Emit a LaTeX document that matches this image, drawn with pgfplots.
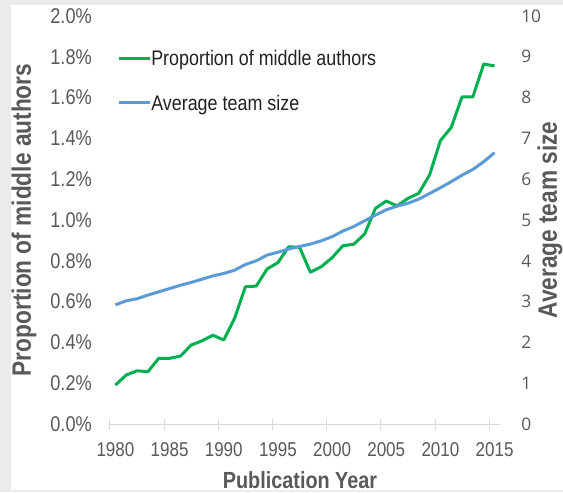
\documentclass[border=0pt]{standalone}
\usepackage{pgfplots}
\pgfplotsset{compat=1.18}
\usepackage{pgfplotstable}
\usepackage{fontspec}
\setmainfont{Liberation Sans}[FakeStretch=0.85]
\newfontfamily\rfont{Open Sans}
\definecolor{cgreen}{HTML}{00B050}
\definecolor{cblue}{HTML}{5B9BD5}
\definecolor{lbl}{HTML}{595959}
\definecolor{axgray}{HTML}{D9D9D9}
\definecolor{bggray}{HTML}{EBEBEB}
\definecolor{legtext}{HTML}{222222}
\pgfplotsset{/pgf/number format/assume math mode=true}
\pgfplotstableread{
year pct team
1980 0.191 2.92
1981 0.240 3.02
1982 0.261 3.07
1983 0.256 3.16
1984 0.322 3.24
1985 0.322 3.32
1986 0.333 3.40
1987 0.387 3.47
1988 0.408 3.55
1989 0.435 3.63
1990 0.412 3.69
1991 0.518 3.77
1992 0.673 3.91
1993 0.676 4.00
1994 0.760 4.14
1995 0.791 4.21
1996 0.869 4.29
1997 0.866 4.35
1998 0.744 4.41
1999 0.771 4.49
2000 0.815 4.59
2001 0.874 4.73
2002 0.881 4.84
2003 0.931 4.98
2004 1.057 5.12
2005 1.093 5.25
2006 1.069 5.34
2007 1.106 5.41
2008 1.131 5.51
2009 1.221 5.65
2010 1.389 5.79
2011 1.454 5.94
2012 1.604 6.10
2013 1.604 6.24
2014 1.765 6.43
2015 1.755 6.65
}\datatable
\begin{document}
\begin{tikzpicture}
\useasboundingbox (0,0) rectangle (422.25pt,369pt);
\fill[bggray] (0,0) rectangle (422.25pt,369pt);
\fill[white] (8.25pt,1.5pt) rectangle (422.25pt,365.25pt);
\begin{axis}[
  at={(82.5pt,51pt)}, anchor=south west,
  scale only axis, width=292.5pt, height=306pt,
  xmin=1979.5, xmax=2015.5, ymin=0, ymax=2,
  axis x line*=bottom, axis y line*=left,
  x axis line style={draw=axgray, line width=0.75pt},
  y axis line style={draw=none},
  xtick={1980,1985,1990,1995,2000,2005,2010,2015},
  xticklabels={1980,1985,1990,1995,2000,2005,2010,2015},
  minor xtick={1979.5,1984.5,1989.5,1994.5,1999.5,2004.5,2009.5,2014.5},
  major tick length=0pt, minor tick length=8.25pt, tick align=center,
  minor tick style={draw=axgray, line width=0.75pt},
  ytick={0,0.2,0.4,0.6,0.8,1,1.2,1.4,1.6,1.8,2},
  yticklabel={\pgfmathprintnumber[fixed,fixed zerofill,precision=1]{\tick}\%},
  xticklabel style={anchor=north, inner sep=0pt, yshift=-14pt, font=\fontsize{15}{18}\selectfont, text=lbl},
  yticklabel style={anchor=east, inner sep=0pt, xshift=-13.5pt, font=\fontsize{16}{18}\selectfont, text=lbl},
  xlabel={Publication Year},
  xlabel style={at={(axis description cs:0.5,0)}, anchor=center, yshift=-42.4pt, xshift=-3.75pt, inner sep=0pt, font=\bfseries\fontsize{17.5}{20}\selectfont, text=lbl},
  ylabel={Proportion of middle authors},
  ylabel style={at={(axis description cs:0,0.5)}, anchor=center, yshift=64.5pt, inner sep=0pt, font=\bfseries\fontsize{20}{24}\selectfont, text=lbl},
  legend style={at={(axis description cs:0.018,0.842)}, anchor=west, draw=none, fill=none, inner sep=0pt, row sep=22.2pt, column sep=0pt, font=\fontsize{15.8}{18}\selectfont, text=legtext, nodes={inner sep=0pt, text height=11.3pt, text depth=0pt}},
  legend cell align=left,
  legend image code/.code={\draw[#1] (0pt,0pt) -- (23.25pt,0pt);},
]
\addplot[cgreen, line width=2.25pt, line join=round] table[x=year, y=pct] {\datatable};
\addlegendentry{Proportion of middle authors}
\addlegendimage{cblue, line width=2.25pt}
\addlegendentry{Average team size}
\end{axis}
\begin{axis}[
  at={(82.5pt,51pt)}, anchor=south west,
  scale only axis, width=292.5pt, height=306pt,
  xmin=1979.5, xmax=2015.5, ymin=0, ymax=10,
  axis x line=none, axis y line*=right,
  y axis line style={draw=none},
  ytick={0,1,2,3,4,5,6,7,8,9,10}, major tick length=0pt,
  yticklabel style={anchor=west, inner sep=0pt, xshift=15.75pt, font=\rfont\fontsize{13}{15}\selectfont, text=lbl},
  ylabel={Average team size},
  ylabel style={at={(axis description cs:1,0.5)}, anchor=center, yshift=-37.5pt, inner sep=0pt, font=\bfseries\fontsize{20}{24}\selectfont, text=lbl},
]
\addplot[cblue, line width=2.25pt, line join=round] table[x=year, y=team] {\datatable};
\end{axis}
\end{tikzpicture}
\end{document}
